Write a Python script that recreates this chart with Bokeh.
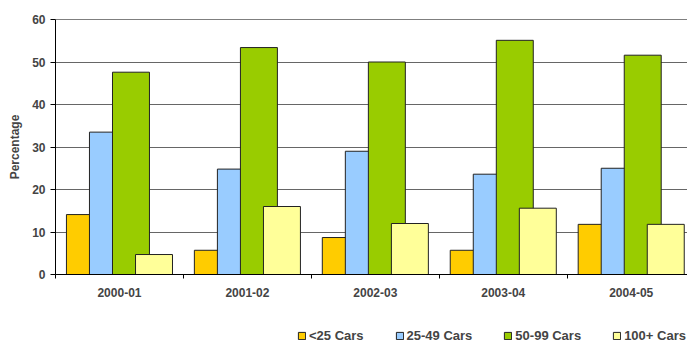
import numpy as np
from bokeh.plotting import figure
from bokeh.layouts import column
from bokeh.models import (Range1d, FixedTicker, Legend, LegendItem, Span)
from bokeh.embed import file_html
from bokeh.resources import INLINE

# Share of sites by car-park size band, per year
years = ["2000-01", "2001-02", "2002-03", "2003-04", "2004-05"]
under_25 = [14.1, 5.7, 8.7, 5.7, 11.8]
cars_25_49 = [33.5, 24.8, 29.0, 23.6, 25.0]
cars_50_99 = [47.6, 53.4, 50.0, 55.1, 51.6]
cars_100_plus = [4.7, 16.0, 12.0, 15.6, 11.8]

series_names = ["<25 Cars", "25-49 Cars", "50-99 Cars", "100+ Cars"]
series_values = [under_25, cars_25_49, cars_50_99, cars_100_plus]
series_colors = ["#FFCC00", "#99CCFF", "#99CC00", "#FFFF99"]

y_ticks = [0, 10, 20, 30, 40, 50, 60]

FONT = "Liberation Sans"
OUTLINE = "#222222"

p = figure(
    frame_width=632, frame_height=255,
    min_border_left=55, min_border_right=0, min_border_top=19, min_border_bottom=40,
    x_range=Range1d(0, 4.94), y_range=Range1d(0, 60),
    output_backend="svg", toolbar_location=None,
)
p.outline_line_color = None
p.background_fill_color = "white"
p.border_fill_color = "white"

# overlapping bars: each bar is wider than its step, later series drawn on top
bar_width = 0.289
step = 0.18
centers = np.arange(len(years)) + 0.5
for k, (vals, col) in enumerate(zip(series_values, series_colors)):
    xs = centers + (k - 1.5) * step
    p.vbar(x=xs, top=vals, width=bar_width, bottom=0,
           fill_color=col, line_color=OUTLINE, line_width=1)

# y axis
p.yaxis.ticker = FixedTicker(ticks=y_ticks)
p.yaxis.axis_label = "Percentage"
p.yaxis.axis_label_text_font = FONT
p.yaxis.axis_label_text_font_style = "bold"
p.yaxis.axis_label_text_font_size = "12px"
p.yaxis.axis_label_standoff = 7
p.yaxis.major_label_text_font = FONT
p.yaxis.major_label_text_font_style = "bold"
p.yaxis.major_label_text_font_size = "12px"
p.yaxis.major_label_standoff = 5
p.yaxis.major_tick_out = 5
p.yaxis.major_tick_in = 0
p.yaxis.minor_tick_line_color = None
p.yaxis.axis_line_color = "black"
p.yaxis.major_tick_line_color = "black"

# x axis: labels at group centres, tick marks between groups
p.xaxis.ticker = FixedTicker(ticks=list(centers), minor_ticks=[0, 1, 2, 3, 4])
p.xaxis.major_label_overrides = {float(c): y for c, y in zip(centers, years)}
p.xaxis.major_label_text_font = FONT
p.xaxis.major_label_text_font_style = "bold"
p.xaxis.major_label_text_font_size = "12px"
p.xaxis.major_tick_line_color = None
p.xaxis.major_tick_out = 0
p.xaxis.major_tick_in = 0
p.xaxis.major_label_standoff = 9
p.xaxis.minor_tick_out = 4
p.xaxis.minor_tick_in = 0
p.xaxis.minor_tick_line_color = "black"
p.xaxis.axis_line_color = "black"

p.xgrid.grid_line_color = None
p.ygrid.grid_line_color = "#666666"
p.ygrid.grid_line_width = 1

p.add_layout(Span(location=60, dimension="width", line_color="black", line_width=1))

# legend strip underneath the chart; its swatch renderers sit outside the visible range
lg = figure(
    frame_width=687, frame_height=29,
    min_border=0, x_axis_location=None, y_axis_location=None,
    x_range=Range1d(0, 1), y_range=Range1d(0, 1),
    output_backend="svg", toolbar_location=None,
)
lg.outline_line_color = None
lg.grid.grid_line_color = None
lg.border_fill_color = "white"
lg.background_fill_color = "white"

swatches = [lg.vbar(x=[-5], top=[-5], bottom=[-6], width=0.1,
                    fill_color=col, line_color=OUTLINE, line_width=1)
            for col in series_colors]

legend = Legend(
    items=[LegendItem(label=n, renderers=[r]) for n, r in zip(series_names, swatches)],
    orientation="horizontal",
    location=(297, 0),
    glyph_width=9, glyph_height=9,
    label_standoff=3, spacing=31,
    label_height=12, label_width=10,
    padding=0, margin=0,
    border_line_color=None, background_fill_alpha=0,
    label_text_font=FONT, label_text_font_style="bold", label_text_font_size="13px",
)
lg.add_layout(legend, "center")

layout = column(p, lg, spacing=0)

open("out.html", "w").write(file_html(layout, INLINE))
